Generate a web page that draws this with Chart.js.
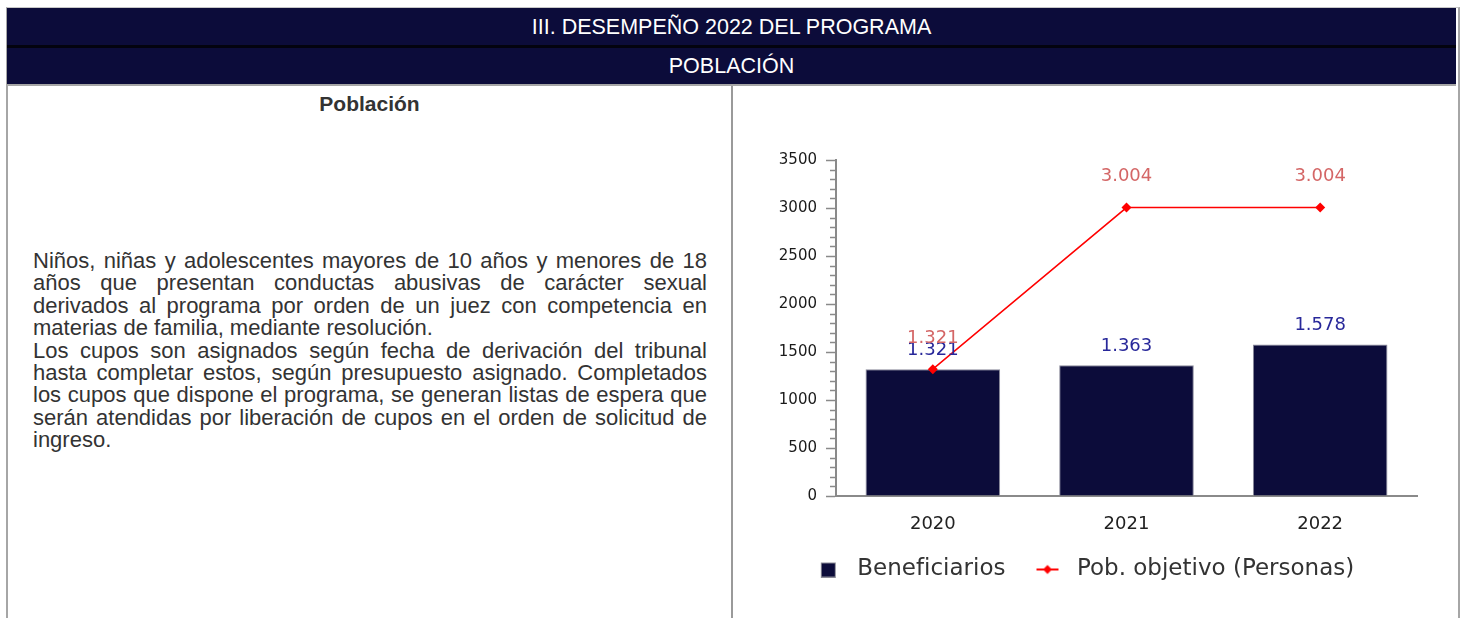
<!DOCTYPE html>
<html lang="es">
<head>
    <meta charset="UTF-8">
    <title>Población</title>
    <script src="https://cdn.jsdelivr.net/npm/chart.js"></script>
    <style>
        body {
            margin: 0;
            padding: 0;
            background-color: #ffffff;
            font-family: 'Liberation Sans', Arial, sans-serif;
            width: 1460px;
            height: 618px;
            overflow: hidden;
            position: relative;
        }
        .frame {
            position: absolute;
            left: 6px;
            top: 7px;
            width: 1450px;
            height: 640px;
            border: 2px solid #a6a6a6;
            border-top: 1px solid #c8c8c8;
        }
        .head {
            position: absolute;
            left: 7px;
            width: 1449px;
            background-color: #0c0c3a;
            color: #ffffff;
            text-align: center;
            font-size: 21.5px;
        }
        .head1 { top: 8px; height: 37px; line-height: 38px; border-bottom: 3px solid #03030f; }
        .head2 { top: 48px; height: 36px; line-height: 36px; border-bottom: 2px solid #a6a6a6; }
        .divider {
            position: absolute;
            left: 731px;
            top: 86px;
            width: 2px;
            height: 540px;
            background-color: #9a9a9a;
        }
        .subtitle {
            position: absolute;
            left: 8px;
            width: 723px;
            top: 92px;
            text-align: center;
            font-weight: bold;
            font-size: 21px;
            color: #333333;
        }
        .texto {
            position: absolute;
            left: 33px;
            top: 250px;
            width: 674px;
            font-size: 22px;
            line-height: 22.4px;
            color: #333333;
            text-align: justify;
        }
        .chart-box {
            position: absolute;
            left: 733px;
            top: 86px;
            width: 723px;
            height: 532px;
        }
    </style>
</head>
<body>
    <div class="frame"></div>
    <div class="head head1">III. DESEMPEÑO 2022 DEL PROGRAMA</div>
    <div class="head head2">POBLACIÓN</div>
    <div class="divider"></div>
    <div class="subtitle">Población</div>
    <div class="texto">Niños, niñas y adolescentes mayores de 10 años y menores de 18 años que presentan conductas abusivas de carácter sexual derivados al programa por orden de un juez con competencia en materias de familia, mediante resolución.<br>Los cupos son asignados según fecha de derivación del tribunal hasta completar estos, según presupuesto asignado. Completados los cupos que dispone el programa, se generan listas de espera que serán atendidas por liberación de cupos en el orden de solicitud de ingreso.</div>
    <div class="chart-box">
        <canvas id="poblacionChart"></canvas>
    </div>

    <script>
        // datos
        const anios = ['2020', '2021', '2022'];
        const beneficiarios = [1321, 1363, 1578];
        const pobObjetivo = [1321, 3004, 3004];
        const yMax = 3500;
        const yPaso = 500;
        const yPasoMenor = 100;

        const azul = '#0c0c3a';
        const rojo = '#ff0000';
        const fuente = "'DejaVu Sans', sans-serif";

        // 1321 -> "1.321"
        const formato = v => String(v).replace(/\B(?=(\d{3})+(?!\d))/g, '.');

        // iconos de la leyenda (50 px de ancho, centrados en la caja)
        const iconoBarra = document.createElement('canvas');
        iconoBarra.width = 50; iconoBarra.height = 16;
        (function () {
            const c = iconoBarra.getContext('2d');
            c.fillStyle = '#8a8a96';
            c.fillRect(25, 1, 15, 15);
            c.fillStyle = azul;
            c.fillRect(26, 2, 13, 13);
        })();

        const iconoLinea = document.createElement('canvas');
        iconoLinea.width = 50; iconoLinea.height = 12;
        (function () {
            const c = iconoLinea.getContext('2d');
            c.strokeStyle = rojo;
            c.lineWidth = 2;
            c.beginPath(); c.moveTo(21, 6); c.lineTo(43, 6); c.stroke();
            c.fillStyle = rojo;
            c.beginPath();
            c.moveTo(32, 1.5); c.lineTo(36.5, 6); c.lineTo(32, 10.5); c.lineTo(27.5, 6);
            c.closePath(); c.fill();
        })();

        // etiquetas de valores sobre barras y puntos
        const etiquetas = {
            id: 'etiquetas',
            afterDatasetsDraw(chart) {
                const ctx = chart.ctx;
                ctx.save();
                ctx.font = '18px ' + fuente;
                ctx.textAlign = 'center';
                ctx.textBaseline = 'middle';
                chart.data.datasets.forEach((ds, i) => {
                    const meta = chart.getDatasetMeta(i);
                    meta.data.forEach((el, j) => {
                        if (ds.type === 'bar') {
                            ctx.fillStyle = '#28289a';
                            ctx.fillText(formato(ds.data[j]), el.x, el.y - 19);
                        } else {
                            ctx.fillStyle = '#d46666';
                            ctx.fillText(formato(ds.data[j]), el.x, el.y - 31);
                        }
                    });
                });
                ctx.restore();
            }
        };

        // marcas menores del eje y
        const marcasMenores = {
            id: 'marcasMenores',
            afterDraw(chart) {
                const y = chart.scales.y;
                const ctx = chart.ctx;
                ctx.save();
                ctx.strokeStyle = '#8a8a8a';
                ctx.lineWidth = 1.5;
                for (let v = yPasoMenor; v < yMax; v += yPasoMenor) {
                    if (v % yPaso === 0) continue;
                    const py = Math.round(y.getPixelForValue(v)) + 0.5;
                    ctx.beginPath();
                    ctx.moveTo(y.right - 6, py);
                    ctx.lineTo(y.right, py);
                    ctx.stroke();
                }
                ctx.restore();
            }
        };

        const ctx = document.getElementById('poblacionChart').getContext('2d');
        const poblacionChart = new Chart(ctx, {
            data: {
                labels: anios,
                datasets: [{
                    type: 'bar',
                    label: 'Beneficiarios',
                    data: beneficiarios,
                    backgroundColor: azul,
                    borderColor: '#8a8a9a',
                    borderWidth: 1,
                    barPercentage: 0.695,
                    categoryPercentage: 1,
                    order: 2
                }, {
                    type: 'line',
                    label: 'Pob. objetivo (Personas)',
                    data: pobObjetivo,
                    borderColor: rojo,
                    backgroundColor: rojo,
                    borderWidth: 1.5,
                    pointStyle: 'rectRot',
                    pointRadius: 5,
                    pointBackgroundColor: rojo,
                    pointBorderWidth: 0,
                    fill: false,
                    tension: 0,
                    order: 1
                }]
            },
            options: {
                responsive: true,
                maintainAspectRatio: false,
                animation: false,
                layout: {
                    padding: { top: 74, right: 39, left: 0, bottom: 27 }
                },
                plugins: {
                    tooltip: { enabled: false },
                    legend: {
                        display: true,
                        position: 'bottom',
                        labels: {
                            usePointStyle: true,
                            pointStyleWidth: 50,
                            boxHeight: 16,
                            padding: 10,
                            color: '#333333',
                            font: { family: fuente, size: 23 },
                            sort: (a, b) => a.datasetIndex - b.datasetIndex,
                            generateLabels: chart => chart.data.datasets.map((ds, i) => ({
                                text: ds.label,
                                datasetIndex: i,
                                pointStyle: ds.type === 'bar' ? iconoBarra : iconoLinea,
                                fillStyle: 'transparent',
                                strokeStyle: 'transparent',
                                lineWidth: 0,
                                fontColor: '#333333',
                                hidden: false
                            }))
                        }
                    }
                },
                scales: {
                    x: {
                        grid: { display: false, drawTicks: false },
                        border: { display: true, color: '#8a8a8a', width: 2 },
                        ticks: {
                            color: '#222222',
                            padding: 18,
                            font: { family: fuente, size: 18 }
                        },
                        afterFit: s => { s.height = 52; }
                    },
                    y: {
                        min: 0,
                        max: yMax,
                        ticks: {
                            stepSize: yPaso,
                            padding: 9,
                            color: '#1a1a1a',
                            font: { family: fuente, size: 15 },
                            callback: v => String(v)
                        },
                        grid: {
                            drawOnChartArea: false,
                            drawTicks: true,
                            tickLength: 10,
                            tickColor: '#8a8a8a',
                            tickWidth: 1.5
                        },
                        border: { display: true, color: '#8a8a8a', width: 2 },
                        afterFit: s => { s.width = 103; }
                    }
                }
            },
            plugins: [etiquetas, marcasMenores]
        });
    </script>
</body>
</html>
